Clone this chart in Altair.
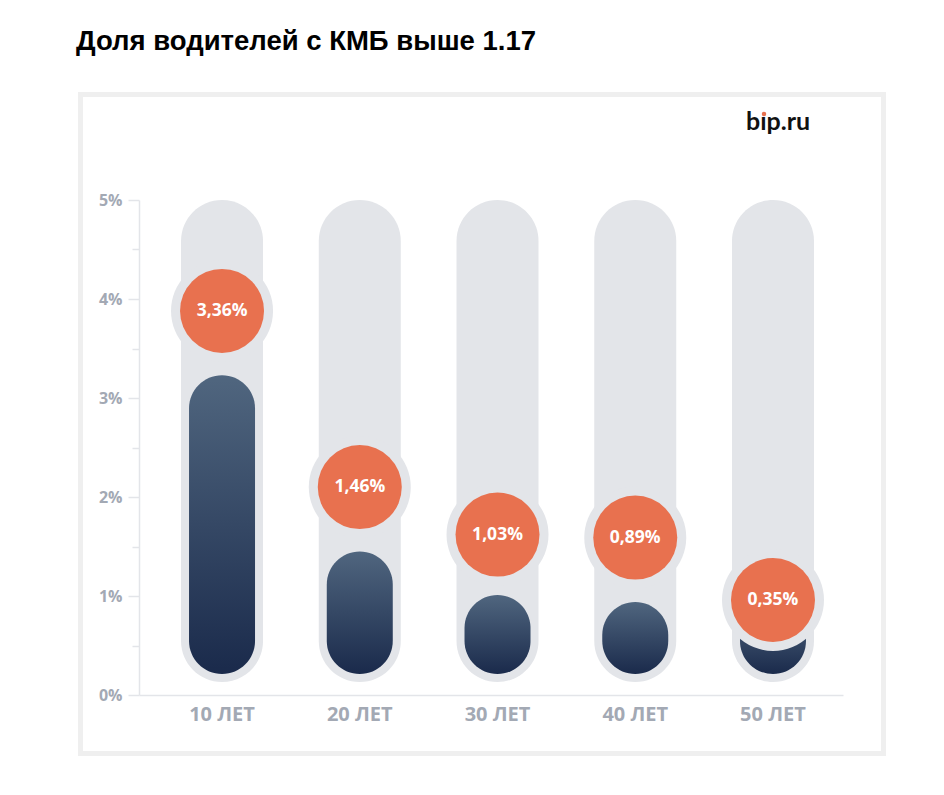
import altair as alt
import pandas as pd

# ---- data ----
categories = ["10 ЛЕТ", "20 ЛЕТ", "30 ЛЕТ", "40 ЛЕТ", "50 ЛЕТ"]
values = [3.36, 1.46, 1.03, 0.89, 0.35]
value_labels = ["3,36%", "1,46%", "1,03%", "0,89%", "0,35%"]
bar_tops = [3.23, 1.45, 1.01, 0.94, 0.90]      # top of the dark pill (in %)
bubble_pos = [3.88, 2.10, 1.62, 1.59, 0.96]    # centre of the orange bubble (in %)
y_ticks = [0, 0.5, 1, 1.5, 2, 2.5, 3, 3.5, 4, 4.5, 5]
y_max = 5

df = pd.DataFrame({
    "cat": categories,
    "value": values,
    "label": value_labels,
    "bar_top": bar_tops,
    "bubble": bubble_pos,
})

GRAY = "#e3e5e9"
ORANGE = "#e8714f"
AXIS_TEXT = "#a3a9b4"

x_scale = alt.Scale(type="band", paddingInner=0, paddingOuter=0.0555, align=0.926)
x_enc = alt.X(
    "cat:N", sort=categories, scale=x_scale,
    axis=alt.Axis(title=None, ticks=False, domainColor=GRAY, domainWidth=1.5,
                  labelFont="Open Sans", labelFontWeight="bold", labelFontSize=20,
                  labelColor=AXIS_TEXT, labelPadding=9, labelAngle=0),
)
y_scale = alt.Scale(domain=[0, y_max], nice=False, zero=True)
y_axis = alt.Axis(
    title=None, values=y_ticks, grid=False,
    labelExpr="datum.value % 1 === 0 ? datum.value + '%' : ''",
    tickSize={"condition": {"test": "datum.value % 1 === 0", "value": 11}, "value": 7},
    tickColor=GRAY, tickWidth=1.5, domainColor=GRAY, domainWidth=1.5,
    labelFont="Open Sans", labelFontWeight="bold", labelFontSize=16,
    labelColor=AXIS_TEXT, labelPadding=6,
)

base = alt.Chart(df)

frame = alt.Chart(pd.DataFrame({"k": [0]})).mark_rect(
    fill="white", fillOpacity=0, stroke="#efefef", strokeWidth=5
).encode(x=alt.value(-58.5), x2=alt.value(744.5), y=alt.value(-105.5), y2=alt.value(553.5))

logo = alt.Chart(pd.DataFrame({"t": ["bıp.ru"]})).mark_text(
    font="Lato", fontWeight="bold", fontSize=25, color="#111111", align="left", baseline="alphabetic"
).encode(x=alt.value(607), y=alt.value(-70), text="t:N")
logo_dot = alt.Chart(pd.DataFrame({"k": [0]})).mark_circle(
    size=20, color=ORANGE, opacity=1
).encode(x=alt.value(625), y=alt.value(-86))

pills = base.mark_bar(width=82, cornerRadius=41, color=GRAY, y2Offset=-13).encode(
    x=x_enc,
    y=alt.Y(datum=y_max, scale=y_scale, axis=y_axis),
    y2=alt.Y2(datum=0),
)

gradient = alt.Gradient(
    gradient="linear",
    stops=[alt.GradientStop(color="#50667f", offset=0),
           alt.GradientStop(color="#1a2a4b", offset=1)],
    x1=1, x2=1, y1=0, y2=1,
)
bars = base.mark_bar(width=66, cornerRadius=33, color=gradient, y2Offset=-21).encode(
    x=alt.X("cat:N", sort=categories),
    y=alt.Y("bar_top:Q", scale=y_scale),
    y2=alt.Y2(datum=0),
)

rings = base.mark_circle(size=10404, color=GRAY, opacity=1).encode(
    x=alt.X("cat:N", sort=categories), y=alt.Y("bubble:Q", scale=y_scale)
)
bubbles = base.mark_circle(size=7056, color=ORANGE, opacity=1).encode(
    x=alt.X("cat:N", sort=categories), y=alt.Y("bubble:Q", scale=y_scale)
)
texts = base.mark_text(
    font="Open Sans", fontWeight="bold", fontSize=17.5, color="white",
    align="center", baseline="middle"
).encode(
    x=alt.X("cat:N", sort=categories), y=alt.Y("bubble:Q", scale=y_scale), text="label:N"
)

chart = alt.layer(frame, logo, logo_dot, pills, bars, rings, bubbles, texts).properties(
    width=704, height=495,
    title=alt.TitleParams(
        "Доля водителей с КМБ выше 1.17", anchor="start", frame="group",
        dx=-63, offset=15, baseline="alphabetic",
        font="Liberation Sans", fontSize=27.5, fontWeight="bold", color="#000000",
    ),
    autosize=alt.AutoSizeParams(type="none"),
    padding={"left": 131, "top": 192, "right": 93, "bottom": 80},
).configure_view(stroke=None)

chart.save("out.html", embed_options={"renderer": "svg", "actions": False})
